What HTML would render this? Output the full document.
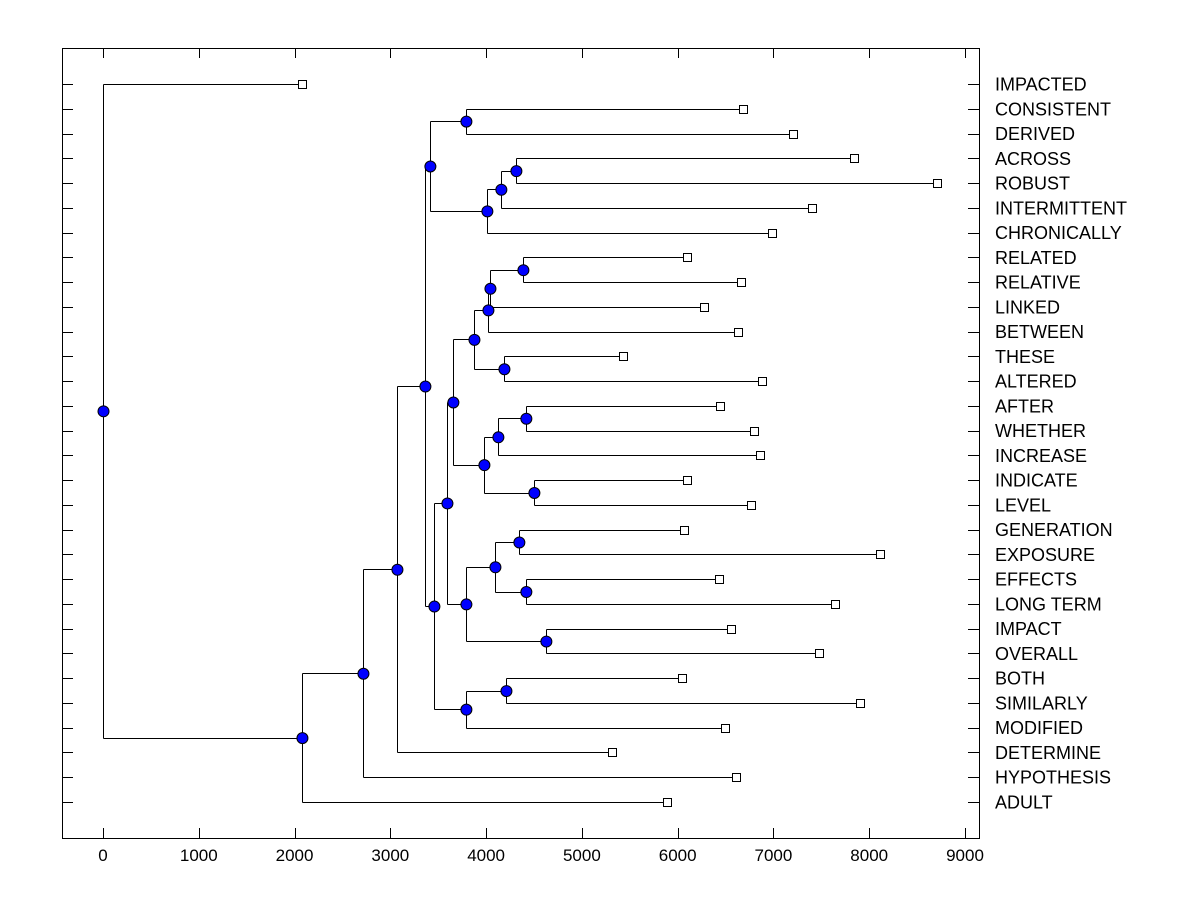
<!DOCTYPE html>
<html><head><meta charset="utf-8"><style>
html,body{margin:0;padding:0;background:#fff}
svg{display:block;font-family:"Liberation Sans",Arial,sans-serif}
</style></head><body>
<svg id="chart" width="1200" height="900" xmlns="http://www.w3.org/2000/svg"></svg>
<script>
const leafNames = ["IMPACTED","CONSISTENT","DERIVED","ACROSS","ROBUST","INTERMITTENT","CHRONICALLY","RELATED","RELATIVE","LINKED","BETWEEN","THESE","ALTERED","AFTER","WHETHER","INCREASE","INDICATE","LEVEL","GENERATION","EXPOSURE","EFFECTS","LONG TERM","IMPACT","OVERALL","BOTH","SIMILARLY","MODIFIED","DETERMINE","HYPOTHESIS","ADULT"];
const leafValues = [2077,6680,7200,7840,8705,7400,6983,6096,6660,6273,6628,5428,6879,6440,6795,6858,6096,6764,6065,8110,6430,7641,6555,7474,6044,7902,6493,5313,6608,5887];
const mergeIds = ["a","b","c","d","e","f","g","h","i","j","k","l","m","n","o","p","q","r","s","t","u","v","w","x","y","z","aa","bb","root"];
const mergeLeft = ["CONSISTENT","ACROSS","b","c","a","RELATED","f","g","THESE","h","AFTER","k","INDICATE","l","j","GENERATION","EFFECTS","p","IMPACT","r","o","BOTH","v","u","e","y","z","aa","IMPACTED"];
const mergeRight = ["DERIVED","ROBUST","INTERMITTENT","CHRONICALLY","d","RELATIVE","LINKED","BETWEEN","ALTERED","i","WHETHER","INCREASE","LEVEL","m","n","EXPOSURE","LONG TERM","q","OVERALL","s","t","SIMILARLY","MODIFIED","w","x","DETERMINE","HYPOTHESIS","ADULT","bb"];
const mergeHeights = [3789,4311,4154,4008,3413,4384,4040,4019,4186,3873,4415,4123,4499,3977,3653,4342,4415,4092,4624,3789,3591,4207,3789,3455,3361,3069,2714,2077,0];
const xTicks = [0,1000,2000,3000,4000,5000,6000,7000,8000,9000];

const svg = document.getElementById('chart');
const NS = "http://www.w3.org/2000/svg";
const L=62,R=979,T=48,B=838;
const xs = v => 103 + v*(965-103)/9000;
const ys = i => 84 + i*(802-84)/29;
function mk(tag, attrs, parent){const e=document.createElementNS(NS,tag);for(const k in attrs)e.setAttribute(k,attrs[k]);(parent||svg).appendChild(e);return e;}

const frame = mk('rect',{x:L+0.5,y:T+0.5,width:R-L,height:B-T,fill:'none',stroke:'#000','stroke-width':1});



const xg = mk('g',{});


xTicks.forEach(t=>{
  const x=Math.round(xs(t))+0.5;
  mk('line',{x1:x,x2:x,y1:B,y2:B-10,stroke:'#000'},xg);
  mk('line',{x1:x,x2:x,y1:T,y2:T+10,stroke:'#000'},xg);
  const tx=mk('text',{x:xs(t),y:B+23,'font-size':17,'text-anchor':'middle',fill:'#000'},xg);
  tx.textContent=t;
  
  
});

const pos = {};
const lg = mk('g',{});


leafNames.forEach((n,i)=>{
  const y=Math.round(ys(i))+0.5;
  pos[n]={x:leafValues[i],y:ys(i)};
  mk('line',{x1:L,x2:L+11,y1:y,y2:y,stroke:'#000'},lg);
  mk('line',{x1:R-11,x2:R,y1:y,y2:y,stroke:'#000'},lg);
  const tx=mk('text',{x:995,y:ys(i)+6.5,'font-size':18,fill:'#000'},lg);
  tx.textContent=n;
  
  
});

const eg = mk('g',{stroke:'#000','stroke-width':1,fill:'none'});


const nodes=[];
mergeIds.forEach((id,k)=>{
  const a=pos[mergeLeft[k]], b=pos[mergeRight[k]], h=mergeHeights[k];
  const X=Math.round(xs(h))+0.5;
  [a,b].forEach(c=>{
    const yy=Math.round(c.y)+0.5;
    mk('line',{x1:X,x2:xs(c.x),y1:yy,y2:yy},eg);
  });
  mk('line',{x1:X,x2:X,y1:Math.round(a.y)+0.5,y2:Math.round(b.y)+0.5},eg);
  pos[id]={x:h,y:(a.y+b.y)/2};
  nodes.push(pos[id]);
});
leafNames.forEach(n=>{
  const p=pos[n];
  const r=mk('rect',{x:Math.round(xs(p.x))-3.5,y:Math.round(p.y)-3.5,width:8,height:8,fill:'#fff',stroke:'#000'});
  
  
});
nodes.forEach(p=>{
  const c=mk('circle',{cx:xs(p.x)+0.5,cy:p.y+0.5,r:5.5,fill:'#0000ff',stroke:'#000','stroke-width':1});
  
  
});
</script>
</body></html>
